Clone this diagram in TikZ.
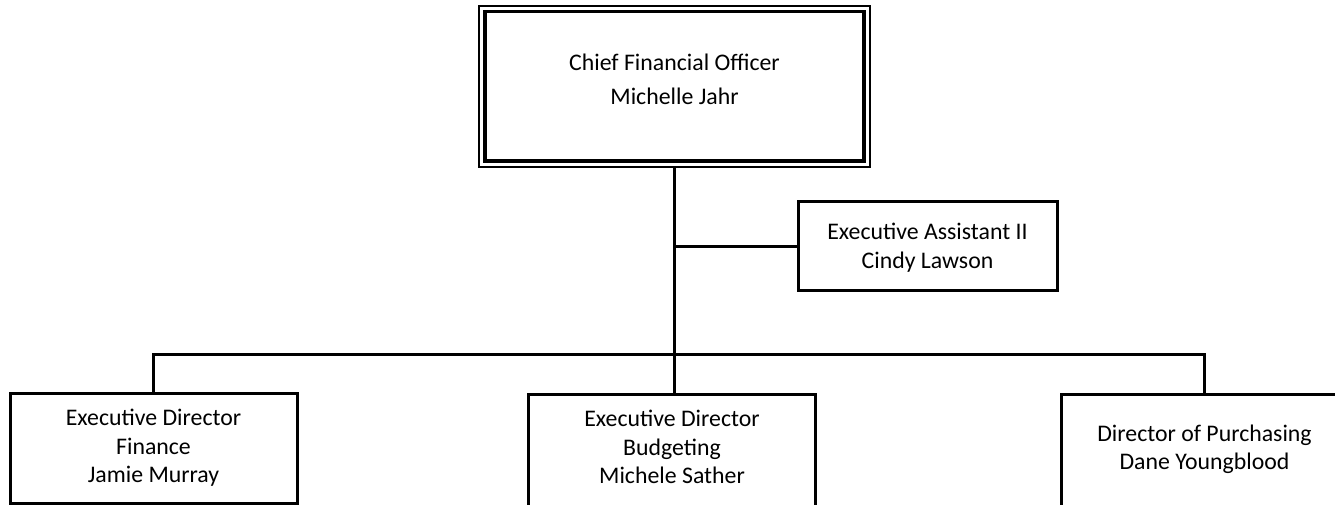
\documentclass[tikz,border=0pt]{standalone}
\usepackage{fontspec}
\setmainfont{Carlito}
\usetikzlibrary{fit}

% extra depth under the last line, keeps the text off the clipped bottom
\newcommand{\boxpad}[1]{\rule[-#1pt]{0pt}{#1pt}}
% extra height above the first line
\newcommand{\toppad}[1]{\rule{0pt}{#1pt}}

\tikzset{
  orgbox/.style={draw, line width=3, align=center, inner sep=0pt,
    minimum width=287, minimum height=110,
    font=\fontsize{23.8}{28.5}\selectfont},
  cutbox/.style={orgbox, minimum height=116, anchor=north},
  assistbox/.style={orgbox, minimum width=259, minimum height=88,
    font=\fontsize{23.8}{29}\selectfont},
  headbox/.style={orgbox, line width=3.5, minimum width=379, minimum height=149.5,
    font=\fontsize{23.8}{34}\selectfont},
  headframe/.style={draw, line width=2, inner sep=4.2},
  link/.style={line width=3}
}

\begin{document}
\begin{tikzpicture}[x=1pt, y=-1pt]
    \useasboundingbox (0,0) rectangle (1335,505);
    \clip (0,0) rectangle (1335,505);

    % Head of department
    \node[headbox] (cfo) at (674.5,86.25) {Chief Financial Officer\\Michelle Jahr\boxpad{13.5}};
    \node[headframe, fit=(cfo)] (cfoframe) {};

    % Assistant
    \node[assistbox] (ea) at (927.5,246) {\toppad{20}Executive Assistant II\\Cindy Lawson};

    % Directors
    \node[orgbox] (fin) at (153.5,448) {Executive Director\\Finance\\Jamie Murray};
    \node[cutbox] (bud) at (672,393) {Executive Director\\Budgeting\\Michele Sather\boxpad{11}};
    \node[cutbox] (pur) at (1204.5,393) {Director of Purchasing\\Dane Youngblood\boxpad{11}};

    % Connectors
    \coordinate (bus) at (675,354);
    \draw[link] (cfoframe.south) -- (cfoframe.south |- bud.north);
    \draw[link] (ea.west) -- (ea.west -| cfoframe.south);
    \draw[link] (fin.north) -- (fin.north |- bus) -- (pur.north |- bus) -- (pur.north);
\end{tikzpicture}
\end{document}
